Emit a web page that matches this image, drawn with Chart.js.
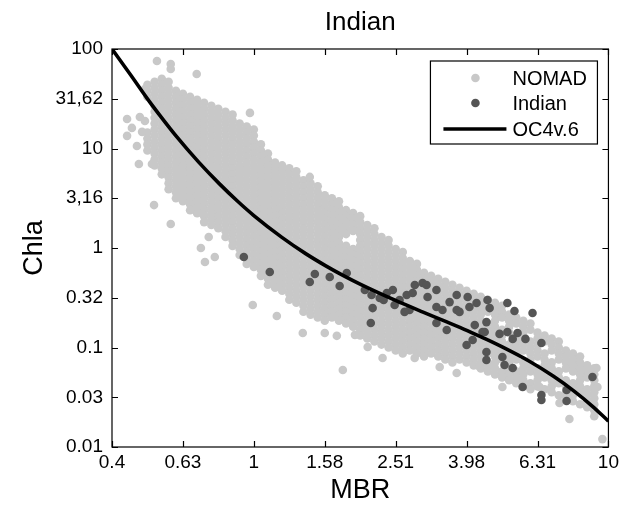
<!DOCTYPE html>
<html>
<head>
<meta charset="UTF-8">
<title>Indian</title>
<script src="https://cdn.jsdelivr.net/npm/chart.js"></script>
<style>body{margin:0;background:#fff}</style>
</head>
<body>
<canvas id="myChart" width="623" height="509"></canvas>
<script>
// axis ticks
const xTickVals = [0.3981, 0.631, 1, 1.585, 2.512, 3.981, 6.31, 10];
const xTickLabels = ['0.4', '0.63', '1', '1.58', '2.51', '3.98', '6.31', '10'];
const yTickVals = [0.01, 0.0316, 0.1, 0.316, 1, 3.162, 10, 31.62, 100];
const yTickLabels = ['0.01', '0.03', '0.1', '0.32', '1', '3,16', '10', '31,62', '100'];

// NOMAD cloud, read column by column (MBR of the column, Chla values in it)
const nomadMBR = [0.501, 0.525, 0.550, 0.575, 0.603, 0.631, 0.661, 0.692, 0.724, 0.759, 0.794, 0.832, 0.871, 0.912, 0.955, 1.000,
  1.047, 1.096, 1.148, 1.202, 1.259, 1.318, 1.380, 1.445, 1.514, 1.585, 1.660, 1.738, 1.820, 1.905, 1.995, 2.089, 2.188, 2.291,
  2.399, 2.512, 2.630, 2.754, 2.884, 3.020, 3.162, 3.311, 3.467, 3.631, 3.802, 3.981, 4.169, 4.365, 4.571, 4.786, 5.012, 5.248,
  5.495, 5.754, 6.026, 6.310, 6.607, 6.918, 7.244, 7.586, 7.943, 8.318, 8.710, 9.120];
const nomadChla = [
  [43.7, 38.0, 33.1, 14.5, 12.6, 11.0, 9.55],
  [46.8, 40.7, 35.5, 30.9, 26.9, 23.4, 20.4, 17.8, 15.5, 13.5, 11.7, 10.2, 8.91, 7.76, 6.76],
  [50.1, 43.7, 38.0, 33.1, 28.8, 25.1, 21.9, 19.1, 16.6, 14.5, 12.6, 11.0, 9.55, 8.32, 7.24, 6.31, 5.50],
  [46.8, 40.7, 35.5, 30.9, 26.9, 23.4, 20.4, 17.8, 15.5, 13.5, 11.7, 10.2, 8.91, 7.76, 6.76, 5.89, 5.13, 4.47, 3.89],
  [38.0, 33.1, 28.8, 25.1, 21.9, 19.1, 16.6, 14.5, 12.6, 11.0, 9.55, 8.32, 7.24, 6.31, 5.50, 4.79, 4.17, 3.63, 3.16],
  [35.5, 30.9, 26.9, 23.4, 20.4, 17.8, 15.5, 13.5, 11.7, 10.2, 8.91, 7.76, 6.76, 5.89, 5.13, 4.47, 3.89, 3.39, 2.95],
  [33.1, 28.8, 25.1, 21.9, 19.1, 16.6, 14.5, 12.6, 11.0, 9.55, 8.32, 7.24, 6.31, 5.50, 4.79, 4.17, 3.63, 3.16, 2.75, 2.40],
  [30.9, 26.9, 23.4, 20.4, 17.8, 15.5, 13.5, 11.7, 10.2, 8.91, 7.76, 6.76, 5.89, 5.13, 4.47, 3.89, 3.39, 2.95, 2.57, 2.24],
  [28.8, 25.1, 21.9, 19.1, 16.6, 14.5, 12.6, 11.0, 9.55, 8.32, 7.24, 6.31, 5.50, 4.79, 4.17, 3.63, 3.16, 2.75, 2.40, 2.09, 1.82],
  [26.9, 23.4, 20.4, 17.8, 15.5, 13.5, 11.7, 10.2, 8.91, 7.76, 6.76, 5.89, 5.13, 4.47, 3.89, 3.39, 2.95, 2.57, 2.24, 1.95, 1.70],
  [25.1, 21.9, 19.1, 16.6, 14.5, 12.6, 11.0, 9.55, 8.32, 7.24, 6.31, 5.50, 4.79, 4.17, 3.63, 3.16, 2.75, 2.40, 2.09, 1.82, 1.58],
  [23.4, 20.4, 17.8, 15.5, 13.5, 11.7, 10.2, 8.91, 7.76, 6.76, 5.89, 5.13, 4.47, 3.89, 3.39, 2.95, 2.57, 2.24, 1.95, 1.70, 1.48, 1.29],
  [21.9, 19.1, 16.6, 14.5, 12.6, 11.0, 9.55, 8.32, 7.24, 6.31, 5.50, 4.79, 4.17, 3.63, 3.16, 2.75, 2.40, 2.09, 1.82, 1.58, 1.38, 1.20, 1.05],
  [17.8, 15.5, 13.5, 11.7, 10.2, 8.91, 7.76, 6.76, 5.89, 5.13, 4.47, 3.89, 3.39, 2.95, 2.57, 2.24, 1.95, 1.70, 1.48, 1.29, 1.12, 0.977, 0.851],
  [16.6, 14.5, 12.6, 11.0, 9.55, 8.32, 7.24, 6.31, 5.50, 4.79, 4.17, 3.63, 3.16, 2.75, 2.40, 2.09, 1.82, 1.58, 1.38, 1.20, 1.05, 0.912, 0.794, 0.692],
  [15.5, 13.5, 11.7, 10.2, 8.91, 7.76, 6.76, 5.89, 5.13, 4.47, 3.89, 3.39, 2.95, 2.57, 2.24, 1.95, 1.70, 1.48, 1.29, 1.12, 0.977, 0.851, 0.741, 0.646],
  [11.0, 9.55, 8.32, 7.24, 6.31, 5.50, 4.79, 4.17, 3.63, 3.16, 2.75, 2.40, 2.09, 1.82, 1.58, 1.38, 1.20, 1.05, 0.912, 0.794, 0.692, 0.603, 0.525],
  [8.91, 7.76, 6.76, 5.89, 5.13, 4.47, 3.89, 3.39, 2.95, 2.57, 2.24, 1.95, 1.70, 1.48, 1.29, 1.12, 0.977, 0.851, 0.741, 0.646, 0.562, 0.490, 0.427],
  [7.24, 6.31, 5.50, 4.79, 4.17, 3.63, 3.16, 2.75, 2.40, 2.09, 1.82, 1.58, 1.38, 1.20, 1.05, 0.912, 0.794, 0.692, 0.603, 0.525, 0.457, 0.398],
  [6.76, 5.89, 5.13, 4.47, 3.89, 3.39, 2.95, 2.57, 2.24, 1.95, 1.70, 1.48, 1.29, 1.12, 0.977, 0.851, 0.741, 0.646, 0.562, 0.490, 0.427, 0.372],
  [6.31, 5.50, 4.79, 4.17, 3.63, 3.16, 2.75, 2.40, 2.09, 1.82, 1.58, 1.38, 1.20, 1.05, 0.912, 0.794, 0.692, 0.603, 0.525, 0.457, 0.398, 0.347, 0.302],
  [5.89, 5.13, 4.47, 3.89, 3.39, 2.95, 2.57, 2.24, 1.95, 1.70, 1.48, 1.29, 1.12, 0.977, 0.851, 0.741, 0.646, 0.562, 0.490, 0.427, 0.372, 0.324, 0.282],
  [4.79, 4.17, 3.63, 3.16, 2.75, 2.40, 2.09, 1.82, 1.58, 1.38, 1.20, 1.05, 0.912, 0.794, 0.692, 0.603, 0.525, 0.457, 0.398, 0.347, 0.302, 0.263, 0.229],
  [4.47, 3.89, 3.39, 2.95, 2.57, 2.24, 1.95, 1.70, 1.48, 1.29, 1.12, 0.977, 0.851, 0.741, 0.646, 0.562, 0.490, 0.427, 0.372, 0.324, 0.282, 0.245, 0.214],
  [4.17, 3.63, 3.16, 2.75, 2.40, 2.09, 1.82, 1.58, 1.38, 1.20, 1.05, 0.912, 0.794, 0.692, 0.603, 0.525, 0.457, 0.398, 0.347, 0.302, 0.263, 0.229, 0.200],
  [3.39, 2.95, 2.57, 2.24, 1.95, 1.70, 1.48, 1.29, 1.12, 0.977, 0.851, 0.741, 0.646, 0.562, 0.490, 0.427, 0.372, 0.324, 0.282, 0.245, 0.214, 0.186],
  [3.16, 2.75, 2.40, 2.09, 1.82, 1.58, 1.38, 1.20, 1.05, 0.912, 0.794, 0.692, 0.603, 0.525, 0.457, 0.398, 0.347, 0.302, 0.263, 0.229, 0.200],
  [2.95, 2.57, 2.24, 1.95, 1.70, 1.48, 1.29, 1.12, 0.977, 0.851, 0.741, 0.646, 0.562, 0.490, 0.427, 0.372, 0.324, 0.282, 0.245, 0.214, 0.186],
  [2.40, 2.09, 1.82, 1.58, 1.38, 1.05, 0.912, 0.794, 0.692, 0.603, 0.525, 0.457, 0.398, 0.347, 0.302, 0.263, 0.229, 0.200, 0.174],
  [2.24, 1.95, 1.70, 1.48, 0.977, 0.851, 0.741, 0.646, 0.562, 0.490, 0.427, 0.372, 0.324, 0.282, 0.245, 0.214, 0.186, 0.162],
  [2.09, 1.82, 1.58, 1.38, 1.20, 1.05, 0.912, 0.794, 0.692, 0.603, 0.525, 0.457, 0.398, 0.347, 0.302, 0.263, 0.229, 0.200, 0.174, 0.151, 0.132],
  [1.70, 1.48, 1.29, 1.12, 0.977, 0.851, 0.741, 0.646, 0.562, 0.490, 0.427, 0.372, 0.324, 0.282, 0.245, 0.214, 0.186, 0.162, 0.141, 0.123],
  [1.58, 1.38, 1.20, 1.05, 0.912, 0.794, 0.692, 0.603, 0.525, 0.457, 0.398, 0.347, 0.302, 0.263, 0.229, 0.200, 0.174, 0.151, 0.132, 0.115],
  [1.29, 1.12, 0.977, 0.851, 0.741, 0.646, 0.562, 0.490, 0.427, 0.372, 0.324, 0.282, 0.245, 0.214, 0.186, 0.162, 0.141, 0.123, 0.107],
  [1.20, 1.05, 0.912, 0.794, 0.692, 0.603, 0.525, 0.457, 0.398, 0.347, 0.302, 0.263, 0.229, 0.200, 0.174, 0.151, 0.132, 0.115, 0.100],
  [0.977, 0.851, 0.741, 0.646, 0.562, 0.490, 0.427, 0.372, 0.324, 0.282, 0.245, 0.214, 0.186, 0.162, 0.141, 0.123, 0.107, 0.0933],
  [0.912, 0.794, 0.692, 0.603, 0.525, 0.457, 0.398, 0.347, 0.302, 0.263, 0.229, 0.200, 0.174, 0.151, 0.132, 0.115, 0.100, 0.0871],
  [0.741, 0.646, 0.562, 0.490, 0.427, 0.372, 0.324, 0.282, 0.245, 0.214, 0.186, 0.162, 0.141, 0.123, 0.107, 0.0933],
  [0.692, 0.603, 0.525, 0.457, 0.398, 0.347, 0.302, 0.263, 0.229, 0.200, 0.174, 0.151, 0.132, 0.115, 0.100, 0.0871],
  [0.562, 0.490, 0.427, 0.372, 0.324, 0.282, 0.245, 0.214, 0.186, 0.162, 0.141, 0.123, 0.107, 0.0933, 0.0813],
  [0.525, 0.457, 0.398, 0.347, 0.302, 0.263, 0.229, 0.200, 0.174, 0.151, 0.132, 0.115, 0.100, 0.0871],
  [0.490, 0.427, 0.372, 0.324, 0.282, 0.245, 0.214, 0.186, 0.162, 0.141, 0.123, 0.107, 0.0933, 0.0813],
  [0.457, 0.398, 0.347, 0.302, 0.263, 0.229, 0.200, 0.174, 0.151, 0.132, 0.115, 0.100, 0.0871, 0.0759],
  [0.427, 0.372, 0.324, 0.282, 0.245, 0.214, 0.186, 0.162, 0.141, 0.123, 0.107, 0.0933, 0.0813, 0.0708],
  [0.398, 0.347, 0.302, 0.263, 0.229, 0.200, 0.174, 0.151, 0.132, 0.115, 0.100, 0.0871, 0.0759],
  [0.372, 0.324, 0.282, 0.245, 0.214, 0.186, 0.162, 0.141, 0.123, 0.107, 0.0933, 0.0813, 0.0708],
  [0.347, 0.302, 0.263, 0.229, 0.200, 0.174, 0.151, 0.132, 0.115, 0.100, 0.0871, 0.0759, 0.0661],
  [0.324, 0.282, 0.245, 0.214, 0.186, 0.162, 0.141, 0.123, 0.107, 0.0933, 0.0813, 0.0708, 0.0617],
  [0.302, 0.263, 0.229, 0.174, 0.151, 0.132, 0.115, 0.100, 0.0871, 0.0661, 0.0575],
  [0.282, 0.245, 0.214, 0.186, 0.162, 0.141, 0.123, 0.107, 0.0933, 0.0813, 0.0708, 0.0617, 0.0537],
  [0.263, 0.229, 0.200, 0.151, 0.132, 0.115, 0.100, 0.0871, 0.0759, 0.0575, 0.0501],
  [0.214, 0.186, 0.162, 0.141, 0.107, 0.0933, 0.0813, 0.0708, 0.0617, 0.0537, 0.0468],
  [0.200, 0.174, 0.132, 0.115, 0.100, 0.0871, 0.0759, 0.0575, 0.0501, 0.0437],
  [0.186, 0.162, 0.141, 0.123, 0.107, 0.0933, 0.0708, 0.0617, 0.0537, 0.0468, 0.0407],
  [0.174, 0.151, 0.115, 0.100, 0.0871, 0.0759, 0.0661, 0.0575, 0.0437, 0.0380],
  [0.141, 0.123, 0.107, 0.0933, 0.0813, 0.0617, 0.0537, 0.0468, 0.0407],
  [0.132, 0.115, 0.0871, 0.0759, 0.0661, 0.0575, 0.0501, 0.0380],
  [0.123, 0.107, 0.0933, 0.0708, 0.0617, 0.0537, 0.0468, 0.0407, 0.0355],
  [0.115, 0.100, 0.0871, 0.0759, 0.0575, 0.0501, 0.0437, 0.0331],
  [0.0933, 0.0813, 0.0708, 0.0617, 0.0468, 0.0407, 0.0355, 0.0309],
  [0.0871, 0.0759, 0.0661, 0.0575, 0.0437, 0.0380, 0.0331, 0.0288],
  [0.0813, 0.0708, 0.0617, 0.0537, 0.0468, 0.0407, 0.0355, 0.0269],
  [0.0661, 0.0575, 0.0501, 0.0380, 0.0331, 0.0288, 0.0251],
  [0.0617, 0.0537, 0.0468, 0.0407, 0.0355, 0.0309, 0.0269, 0.0234, 0.0204]
];
// NOMAD points lying outside the dense cloud
const nomadOutMBR = [0.533, 0.583, 0.583, 0.690, 0.493, 0.439, 0.477, 0.493, 0.453, 0.484, 0.439, 0.468, 0.474, 0.516, 0.523,
  0.583, 0.746, 0.709, 0.728, 0.776, 0.975, 1.438, 0.993, 1.161, 1.374, 1.585, 1.714, 1.782, 1.928, 2.094, 2.307, 2.842, 3.343,
  3.733, 4.335, 5.023, 6.397, 7.278, 7.762, 9.616, 9.252, 9.311, 8.395];
const nomadOutChla = [75.7, 70.6, 63.0, 56.1, 39.6, 19.8, 20.7, 18.9, 16.1, 14.7, 13.4, 10.6, 6.98, 6.98, 2.70,
  1.74, 1.29, 1.00, 0.723, 0.812, 22.8, 5.18, 0.267, 0.207, 0.140, 0.140, 0.131, 0.0594, 0.134, 0.101, 0.0783, 0.0783, 0.0637,
  0.0555, 0.0637, 0.0401, 0.0401, 0.0277, 0.0191, 0.0120, 0.0622, 0.0401, 0.0594];

// Indian Ocean stations
const indianMBR = [0.937, 1.109, 1.438, 1.486, 1.637, 1.746, 1.828, 2.163, 2.137, 2.056, 2.148, 2.265, 2.371, 2.466, 2.576, 2.698,
  2.805, 2.748, 2.844, 2.992, 3.069, 3.090, 3.273, 3.273, 3.404, 3.565, 3.733, 3.733, 4.009, 4.055, 4.246, 3.802, 4.560, 4.624,
  5.188, 5.433, 6.109, 4.529, 4.477, 4.198, 4.140, 3.981, 4.416, 4.932, 5.188, 5.543, 5.370, 5.834, 6.471, 4.529, 4.529, 5.023,
  5.093, 5.370, 5.728, 6.471, 6.471, 7.621, 7.621, 9.016, 3.273, 3.499, 2.661, 2.323, 2.495];
const indianChla = [0.812, 0.574, 0.455, 0.548, 0.512, 0.415, 0.561, 0.249, 0.176, 0.378, 0.337, 0.314, 0.353, 0.378, 0.300, 0.337,
  0.353, 0.238, 0.425, 0.445, 0.425, 0.322, 0.378, 0.255, 0.238, 0.286, 0.337, 0.238, 0.322, 0.255, 0.280, 0.228, 0.300, 0.249,
  0.280, 0.233, 0.222, 0.180, 0.143, 0.168, 0.119, 0.106, 0.143, 0.137, 0.143, 0.140, 0.122, 0.122, 0.111, 0.0902, 0.0748, 0.0803,
  0.0667, 0.0622, 0.0401, 0.0333, 0.0297, 0.0374, 0.0290, 0.0506, 0.176, 0.150, 0.228, 0.300, 0.267];

// OC4v.6 curve
const oc4MBR = [0.3981, 0.45, 0.5, 0.55, 0.6, 0.7, 0.8, 0.9, 1.0, 1.2, 1.4, 1.6, 1.8, 2.0, 2.5, 3.0, 3.5, 4.0, 4.5, 5.0, 6.0, 7.0, 8.0, 9.0, 10];
const oc4Chla = [100, 54.4, 31.9, 20.3, 13.7, 7.25, 4.41, 2.95, 2.12, 1.28, 0.878, 0.658, 0.522, 0.431, 0.299, 0.227, 0.181, 0.148, 0.122, 0.102, 0.0724, 0.0514, 0.0365, 0.0258, 0.0182];

const nomadPoints = [];
nomadMBR.forEach((m, i) => nomadChla[i].forEach(c => nomadPoints.push({x: m, y: c})));
nomadOutMBR.forEach((m, i) => nomadPoints.push({x: m, y: nomadOutChla[i]}));
const indianPoints = indianMBR.map((m, i) => ({x: m, y: indianChla[i]}));
const oc4Points = oc4MBR.map((m, i) => ({x: m, y: oc4Chla[i]}));

const FONT = '"Liberation Sans", Arial, Helvetica, sans-serif';
Chart.defaults.font.family = FONT;
Chart.defaults.color = '#000';

// box, inward ticks, title and legend
const framePlugin = {
  id: 'frame',
  afterDatasetsDraw(chart) {
    const {ctx, chartArea: {left, right, top, bottom}, scales: {x, y}} = chart;
    ctx.save();
    ctx.strokeStyle = '#000';
    ctx.lineWidth = 1.2;
    ctx.strokeRect(left, top, right - left, bottom - top);
    ctx.beginPath();
    xTickVals.forEach(v => {
      const px = Math.round(x.getPixelForValue(v)) + 0.5;
      ctx.moveTo(px, bottom); ctx.lineTo(px, bottom - 6);
      ctx.moveTo(px, top); ctx.lineTo(px, top + 6);
    });
    yTickVals.forEach(v => {
      const py = Math.round(y.getPixelForValue(v)) + 0.5;
      ctx.moveTo(left, py); ctx.lineTo(left + 6, py);
      ctx.moveTo(right, py); ctx.lineTo(right - 6, py);
    });
    ctx.stroke();

    // title
    ctx.fillStyle = '#000';
    ctx.font = '26px ' + FONT;
    ctx.textAlign = 'center';
    ctx.textBaseline = 'middle';
    ctx.fillText('Indian', (left + right) / 2, 23);

    // legend
    const bx = right - 178, by = top + 12, bw = 167, bh = 83;
    ctx.fillStyle = '#fff';
    ctx.fillRect(bx, by, bw, bh);
    ctx.lineWidth = 1.2;
    ctx.strokeRect(bx, by, bw, bh);
    ctx.font = '20px ' + FONT;
    ctx.textAlign = 'left';
    const ds = chart.data.datasets;
    [17, 42, 68].forEach((dy, i) => {
      const d = ds[i];
      if (i < 2) {
        ctx.fillStyle = d.backgroundColor;
        ctx.beginPath();
        ctx.arc(bx + 45, by + dy, 4.3, 0, Math.PI * 2);
        ctx.fill();
      } else {
        ctx.strokeStyle = d.borderColor;
        ctx.lineWidth = d.borderWidth;
        ctx.beginPath();
        ctx.moveTo(bx + 13, by + dy); ctx.lineTo(bx + 76, by + dy);
        ctx.stroke();
      }
      ctx.fillStyle = '#000';
      ctx.fillText(d.label, bx + 82, by + dy + 1);
    });
    ctx.restore();
  }
};

new Chart(document.getElementById('myChart'), {
  type: 'scatter',
  data: {
    datasets: [
      {label: 'NOMAD', data: nomadPoints, backgroundColor: '#c8c8c8', borderWidth: 0, pointRadius: 4.3, order: 3},
      {label: 'Indian', data: indianPoints, backgroundColor: '#555555', borderWidth: 0, pointRadius: 4.3, order: 2},
      {label: 'OC4v.6', data: oc4Points, type: 'line', showLine: true, borderColor: '#000', backgroundColor: '#000',
        borderWidth: 3.6, pointRadius: 0, cubicInterpolationMode: 'monotone', fill: false, order: 1}
    ]
  },
  options: {
    responsive: false,
    animation: false,
    devicePixelRatio: 1,
    layout: {padding: {top: 49, right: 14, left: 0, bottom: 0}},
    plugins: {legend: {display: false}, tooltip: {enabled: false}},
    scales: {
      x: {
        type: 'logarithmic',
        position: 'bottom',
        min: xTickVals[0],
        max: 10,
        grid: {display: false, drawTicks: false},
        border: {display: false},
        ticks: {font: {size: 19}, color: '#000', padding: 4, maxRotation: 0, autoSkip: false,
          callback: (v, i) => xTickLabels[i]},
        afterBuildTicks: s => { s.ticks = xTickVals.map(v => ({value: v})); },
        afterFit: s => { s.height = 62; },
        title: {display: true, text: 'MBR', font: {size: 27}, color: '#000', padding: {bottom: 2}}
      },
      y: {
        type: 'logarithmic',
        position: 'left',
        min: 0.01,
        max: 100,
        grid: {display: false, drawTicks: false},
        border: {display: false},
        ticks: {font: {size: 19}, color: '#000', padding: 9, autoSkip: false,
          callback: (v, i) => yTickLabels[i]},
        afterBuildTicks: s => { s.ticks = yTickVals.map(v => ({value: v})); },
        afterFit: s => { s.width = 112; },
        title: {display: true, text: 'Chla', font: {size: 27}, color: '#000', padding: {top: 18}}
      }
    }
  },
  plugins: [framePlugin]
});
</script>
</body>
</html>
